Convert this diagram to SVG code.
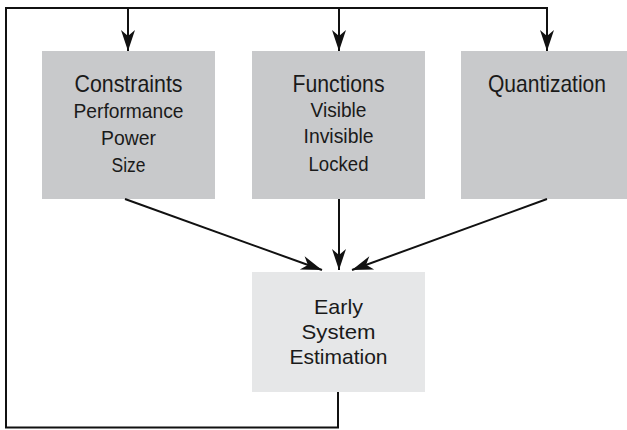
<svg xmlns="http://www.w3.org/2000/svg" width="627" height="430" viewBox="0 0 627 430">
<style>
.box{fill:#c8c9cb}
.box2{fill:#e6e7e8}
text{font-family:"Liberation Sans Narrow","Liberation Sans",Arial,sans-serif;fill:#1a1a1a;text-anchor:middle}
.t{font-size:24px}
.s{font-size:21px}
.e{font-size:21px}
.ln{stroke:#111;stroke-width:2;fill:none}
</style>
<defs>
<marker id="ah" markerUnits="userSpaceOnUse" markerWidth="24" markerHeight="18" viewBox="-22 -9 24 18" refX="0" refY="0" orient="auto">
<path d="M0,0 L-21,-7 L-15,0 L-21,7 Z" fill="#111"/>
</marker>
</defs>
<g id="constraints">
<rect class="box" x="42" y="51" width="173" height="148"/>
<text class="t" x="128.5" y="92" textLength="108" lengthAdjust="spacingAndGlyphs">Constraints</text>
<text class="s" x="128.5" y="118" textLength="110" lengthAdjust="spacingAndGlyphs">Performance</text>
<text class="s" x="128.5" y="145" textLength="55" lengthAdjust="spacingAndGlyphs">Power</text>
<text class="s" x="128.5" y="172" textLength="34" lengthAdjust="spacingAndGlyphs">Size</text>
</g>
<g id="functions">
<rect class="box" x="252" y="51" width="173" height="148"/>
<text class="t" x="338.5" y="92" textLength="92" lengthAdjust="spacingAndGlyphs">Functions</text>
<text class="s" x="338.5" y="117" textLength="56" lengthAdjust="spacingAndGlyphs">Visible</text>
<text class="s" x="338.5" y="143" textLength="70" lengthAdjust="spacingAndGlyphs">Invisible</text>
<text class="s" x="338.5" y="171" textLength="60" lengthAdjust="spacingAndGlyphs">Locked</text>
</g>
<g id="quantization">
<rect class="box" x="461" y="51" width="172" height="148"/>
<text class="t" x="547" y="92" textLength="118" lengthAdjust="spacingAndGlyphs">Quantization</text>
</g>
<g id="estimation">
<rect class="box2" x="252" y="272" width="173" height="120"/>
<text class="e" x="338.5" y="314" textLength="49" lengthAdjust="spacingAndGlyphs">Early</text>
<text class="e" x="338.5" y="339" textLength="74" lengthAdjust="spacingAndGlyphs">System</text>
<text class="e" x="338.5" y="364" textLength="98" lengthAdjust="spacingAndGlyphs">Estimation</text>
</g>
<g id="connectors">
<polyline class="ln" points="338,392 338,427.5 6,427.5 6,8 547,8"/>
<line class="ln" x1="128" y1="8" x2="128" y2="51" marker-end="url(#ah)"/>
<line class="ln" x1="339" y1="8" x2="339" y2="51" marker-end="url(#ah)"/>
<line class="ln" x1="547" y1="7" x2="547" y2="51" marker-end="url(#ah)"/>
<line class="ln" x1="125" y1="199" x2="322" y2="270" marker-end="url(#ah)"/>
<line class="ln" x1="339" y1="199" x2="339" y2="270" marker-end="url(#ah)"/>
<line class="ln" x1="547" y1="199" x2="352" y2="270" marker-end="url(#ah)"/>
</g>
</svg>
